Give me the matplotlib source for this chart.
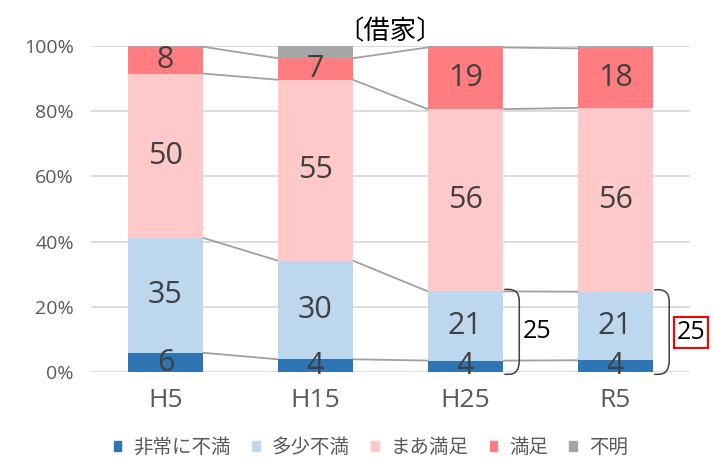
import matplotlib
matplotlib.use("Agg")
import matplotlib.pyplot as plt
from matplotlib.patches import Patch, PathPatch
from matplotlib.path import Path
import numpy as np

plt.rcParams['font.family'] = ['Open Sans', 'Noto Sans CJK JP', 'DejaVu Sans']

categories = ["H5", "H15", "H25", "R5"]
series_names = ["非常に不満", "多少不満", "まあ満足", "満足", "不明"]
very_unsat = [6.0, 4.0, 3.6, 3.7]
some_unsat = [35.2, 30.2, 21.2, 21.0]
fairly_sat = [50.3, 55.4, 55.8, 56.3]
satisfied = [8.2, 6.6, 18.9, 18.2]
unknown = [0.3, 3.8, 0.5, 0.8]
yticks = [0, 20, 40, 60, 80, 100]
title = "〔借家〕"
bracket_cats = [2, 3]

colors = ["#2E75B6", "#BDD7EE", "#FFC9C9", "#FF7C80", "#A6A6A6"]
data = np.array([very_unsat, some_unsat, fairly_sat, satisfied, unknown])

fig = plt.figure(figsize=(7.13, 4.58), dpi=100)
ax = fig.add_axes([0.127, 0.187, 0.841, 0.713])
x = np.arange(len(categories))
w = 0.5
bottom = np.zeros(len(categories))
for i, vals in enumerate(data):
    ax.bar(x, vals, w, bottom=bottom, color=colors[i], zorder=3, linewidth=0)
    if i < 4:
        for j, v in enumerate(vals):
            ax.text(x[j], bottom[j] + v / 2, f"{v:.0f}", ha="center", va="center",
                    fontsize=22, color="#404040", zorder=5)
    bottom = bottom + vals

# series lines
cum = np.cumsum(data, axis=0)
for i in range(4):
    for j in range(len(categories) - 1):
        ax.plot([x[j] + w / 2, x[j + 1] - w / 2], [cum[i][j], cum[i][j + 1]],
                color="#A0A0A0", lw=1.3, zorder=2)

# brackets
for k, j in enumerate(bracket_cats):
    total = cum[1][j]
    x0 = x[j] + w / 2 + 0.01
    x1 = x0 + 0.1
    r = 0.07
    ry = 3.5
    top = total + 0.6
    verts = [(x0, top), (x1 - r, top), (x1, top), (x1, top - ry),
             (x1, ry), (x1, -0.6), (x1 - r, -0.6), (x0, -0.6)]
    codes = [Path.MOVETO, Path.LINETO, Path.CURVE3, Path.CURVE3,
             Path.LINETO, Path.CURVE3, Path.CURVE3, Path.LINETO]
    ax.add_patch(PathPatch(Path(verts, codes), fill=False, edgecolor="#404040",
                           lw=1.1, zorder=4, clip_on=False))
    if k == 0:
        ax.text(x1 + 0.12, total / 2, f"{total:.0f}", ha="center", va="center",
                fontsize=18, color="black", zorder=5)
    else:
        ax.text(x1 + 0.145, total / 2, f"{total:.0f}", ha="center", va="center",
                fontsize=18, color="black", zorder=5, clip_on=False,
                bbox=dict(boxstyle="square,pad=0.12", fc="white", ec="#FF0000", lw=1.5))

ax.set_xlim(-0.5, 3.5)
ax.set_ylim(0, 100)
ax.set_yticks(yticks)
ax.set_yticklabels([f"{t}%" for t in yticks], fontsize=14, color="#595959")
ax.set_xticks(x)
ax.set_xticklabels(categories, fontsize=19, color="#595959")
ax.tick_params(axis="both", length=0, pad=12)
ax.tick_params(axis="x", pad=11)
ax.grid(axis="y", color="#D9D9D9", lw=1.3, zorder=0)
for s in ax.spines.values():
    s.set_visible(False)
ax.set_title(title, fontsize=19, fontweight="normal", color="#000000", pad=2)

handles = [Patch(color=c) for c in colors]
fig.legend(handles, series_names, loc="center", bbox_to_anchor=(0.52, 0.022),
           ncol=5, frameon=False, fontsize=14, handlelength=0.4, handleheight=0.4,
           columnspacing=1.1, handletextpad=0.6, labelcolor="#595959")

fig.savefig("out.png", dpi=100)
